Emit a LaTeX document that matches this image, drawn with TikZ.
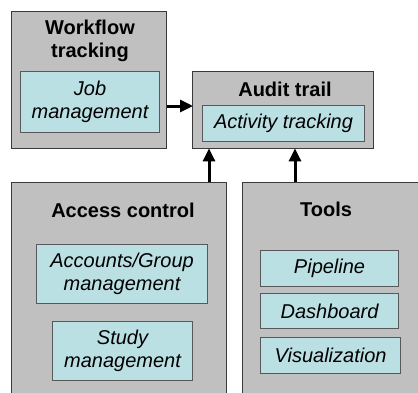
\documentclass[tikz,border=0pt]{standalone}
\usepackage{fontspec}
\setmainfont{Liberation Sans}
\usetikzlibrary{arrows.meta}
\definecolor{outerfill}{HTML}{C0C0C0}
\definecolor{innerfill}{HTML}{BBE0E3}
\definecolor{edgecol}{HTML}{3A3A3A}
\tikzset{
  outerbox/.style={draw=edgecol, line width=1.4pt, fill=outerfill, anchor=north west, inner sep=0pt},
  innerbox/.style={draw=edgecol!85, line width=1.1pt, fill=innerfill, anchor=north west, inner sep=0pt,
    align=center, font=\fontsize{20}{23}\selectfont\itshape},
  titletext/.style={align=center, font=\fontsize{20}{23}\selectfont\bfseries, inner sep=0pt},
  conn/.style={line width=3pt, -{Triangle[length=13pt,width=12pt]}, shorten >=-1pt}
}
\begin{document}
\begin{tikzpicture}[x=1pt,y=-1pt]
\useasboundingbox (0,0) rectangle (418,392);
\clip (0,0) rectangle (418,392);
\fill[white] (0,0) rectangle (418,392);
% outer boxes
\node[outerbox, minimum width=155pt, minimum height=137pt] (wf) at (11,11) {};
\node[outerbox, minimum width=181pt, minimum height=77pt] (at) at (192,71) {};
\node[outerbox, minimum width=215pt, minimum height=240pt] (ac) at (11,182) {};
\node[outerbox, minimum width=200pt, minimum height=240pt] (tl) at (242,182) {};
% titles
\node[titletext] (wft) at (90,41) {Workflow\\tracking};
\node[titletext] (att) at (285,89) {Audit trail};
\node[titletext] (act) at (123,210) {Access control};
\node[titletext] (tlt) at (326,209) {Tools};
% inner boxes
\node[innerbox, minimum width=139pt, minimum height=61pt] (job) at (20,71) {Job\\management};
\node[innerbox, minimum width=162pt, minimum height=36pt] (act2) at (202,105) {Activity tracking};
\node[innerbox, minimum width=171pt, minimum height=59pt] (acc) at (36,244) {Accounts/Group\\management};
\node[innerbox, minimum width=140pt, minimum height=59pt] (stu) at (52,321) {Study\\management};
\node[innerbox, minimum width=138pt, minimum height=36pt] (pip) at (260,250) {Pipeline};
\node[innerbox, minimum width=138pt, minimum height=35pt] (das) at (260,293) {Dashboard};
\node[innerbox, minimum width=140pt, minimum height=36pt] (vis) at (260,337) {Visualization};
% connectors
\coordinate (a1) at (209,182);
\coordinate (a2) at (295,182);
\draw[conn] (wf.east |- 0,106) -- (at.west |- 0,106);
\draw[conn] (ac.north -| a1) -- (at.south -| a1);
\draw[conn] (tl.north -| a2) -- (at.south -| a2);
\end{tikzpicture}
\end{document}
